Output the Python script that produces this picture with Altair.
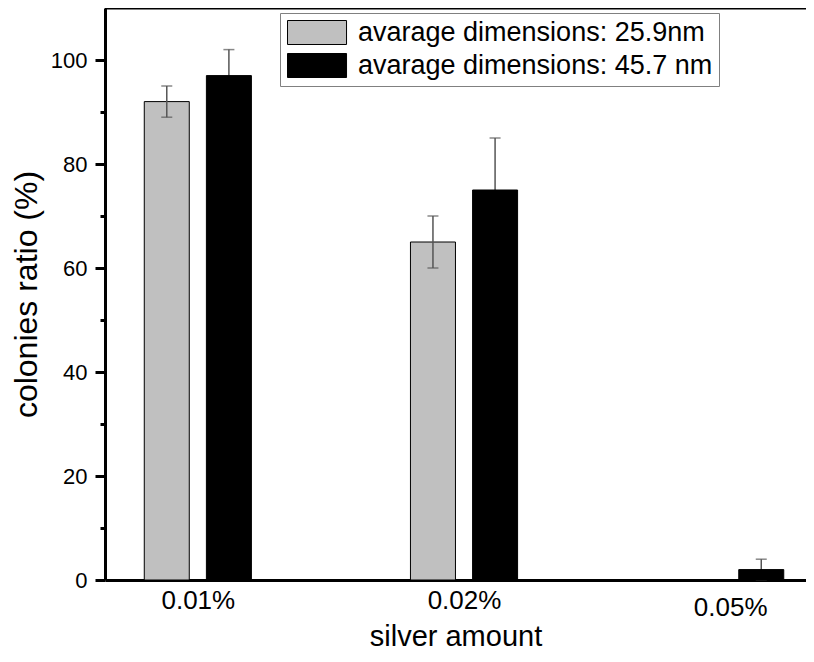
import altair as alt
import pandas as pd

categories = ["0.01%", "0.02%", "0.05%"]
series_names = ["avarage dimensions: 25.9nm", "avarage dimensions: 45.7 nm"]
small_vals = [92, 65, 0]
small_err = [3, 5, 0]
large_vals = [97, 75, 2]
large_err = [5, 10, 2]

OFF = 0.1167  # half group offset in axis units
rows = []
for i, c in enumerate(categories):
    for s, vals, errs, sign in ((series_names[0], small_vals, small_err, -1),
                                (series_names[1], large_vals, large_err, 1)):
        rows.append({"cat": c, "series": s, "pos": i + 1 + sign * OFF,
                     "value": vals[i], "lo": vals[i] - errs[i], "hi": vals[i] + errs[i],
                     "err": errs[i]})
df = pd.DataFrame(rows)

label_expr = "[" + ",".join("'%s'" % c for c in categories) + "][datum.value - 1]"

FONT = "Liberation Sans"
YTITLE = "colonies ratio (%)"
xscale = alt.Scale(domain=[0.67, 3.266], nice=False, zero=False)
yscale = alt.Scale(domain=[0, 110], nice=False)

x_enc = alt.X("pos:Q", scale=xscale,
              axis=alt.Axis(values=[1, 2, 3], labelExpr=label_expr, ticks=False,
                            grid=False, title="silver amount", labelFontSize=26,
                            labelPadding={"condition": {"test": "datum.value == 3", "value": 14},
                                          "value": 7},
                            titleFontSize=29, titleY=65, titleBaseline="alphabetic",
                            domainWidth=3, domainColor="black", labelColor="black",
                            titleColor="black", titleFontWeight="normal"))
y_enc = alt.Y("value:Q", scale=yscale, title=YTITLE,
              axis=alt.Axis(values=list(range(0, 101, 10)),
                            labelExpr="datum.value % 20 == 0 ? datum.label : ''",
                            tickSize={"condition": {"test": "datum.value % 20 == 0", "value": 10},
                                      "value": 5},
                            tickWidth=3, tickColor="black", domainWidth=3, domainColor="black",
                            grid=False, labelFontSize=22,
                            labelPadding=8, titleFontSize=32, titlePadding=7,
                            labelColor="black", titleColor="black", titleFontWeight="normal"))

base = alt.Chart(df)

bars = base.mark_bar(size=45, stroke="black", strokeWidth=1).encode(
    x=x_enc, y=y_enc,
    color=alt.Color("series:N",
                    scale=alt.Scale(domain=series_names, range=["#c0c0c0", "#000000"]),
                    legend=alt.Legend(orient="none", legendX=175, legendY=5, title=None,
                                      symbolType="M-1,-1L3.92,-1L3.92,1L-1,1Z",
                                      symbolSize=576, symbolStrokeColor="black",
                                      symbolStrokeWidth=1, symbolOpacity=1,
                                      labelFontSize=27, labelFont=FONT, labelLimit=700,
                                      labelOffset=45, rowPadding=4, padding=6,
                                      strokeColor="#808080", fillColor="white",
                                      labelColor="black")),
)

def errs(series):
    return base.transform_filter(
        (alt.datum.series == series) & (alt.datum.err > 0)
    ).mark_errorbar(ticks={"size": 11, "color": "#555555", "strokeWidth": 1.5},
                    color="#555555", thickness=1.5).encode(
        x=alt.X("pos:Q", scale=xscale),
        y=alt.Y("lo:Q", scale=yscale, title=YTITLE),
        y2="hi:Q",
    )

top_line = alt.Chart(pd.DataFrame({"top": [110]})).mark_rule(
    color="black", strokeWidth=3).encode(y=alt.Y("top:Q", scale=yscale, title=YTITLE))

chart = alt.layer(errs(series_names[1]), bars, errs(series_names[0]), top_line).properties(
    width=701, height=572,
    autosize=alt.AutoSizeParams(type="none"),
    padding={"left": 97, "top": 0, "right": 0, "bottom": 72},
).configure_view(stroke=None).configure_axis(
    labelFont=FONT, titleFont=FONT
)

chart.save("out.html", embed_options={"renderer": "svg", "actions": False})
